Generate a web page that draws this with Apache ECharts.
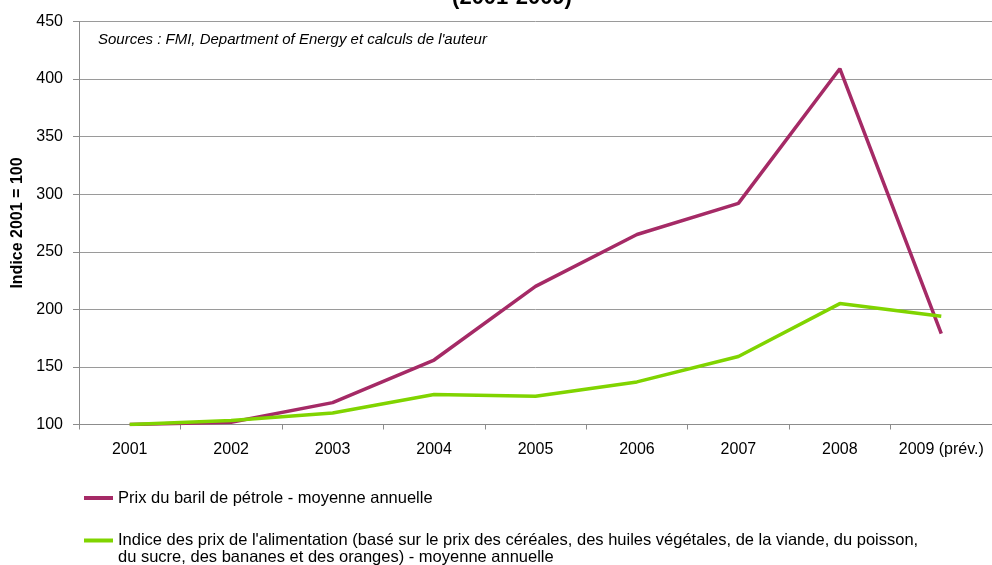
<!DOCTYPE html>
<html>
<head>
<meta charset="utf-8">
<script src="https://cdn.jsdelivr.net/npm/echarts@6/dist/echarts.min.js"></script>
<style>html,body{margin:0;padding:0;background:#fff}#c{width:992px;height:565px}</style>
</head>
<body>
<div id="c"></div>
<script>
const categories = ['2001','2002','2003','2004','2005','2006','2007','2008','2009 (prév.)'];
const oilValues = [100, 102, 119, 156, 220, 265, 292, 409, 179];
const foodValues = [100, 103.5, 110, 126, 124.5, 137, 159, 205, 194];
const oilName = 'Prix du baril de pétrole - moyenne annuelle';
const foodName = "Indice des prix de l'alimentation (basé sur le prix des céréales, des huiles végétales, de la viande, du poisson, du sucre, des bananes et des oranges) - moyenne annuelle";
const foodLegendLines = ["Indice des prix de l'alimentation (basé sur le prix des céréales, des huiles végétales, de la viande, du poisson,", "du sucre, des bananes et des oranges) - moyenne annuelle"];
const titleText = '(2001-2009)';
const sourceText = "Sources : FMI, Department of Energy et calculs de l'auteur";
const yAxisName = 'Indice 2001 = 100';

const FONT = '"Liberation Sans", Arial, sans-serif';
const chart = echarts.init(document.getElementById('c'), null, {renderer: 'canvas'});
chart.setOption({
  animation: false,
  backgroundColor: '#ffffff',
  title: [
    {text: titleText, left: 512, textAlign: 'center', top: -13, padding: 0,
     textStyle: {fontFamily: FONT, fontSize: 22, fontWeight: 'bold', color: '#000'}},
    {text: sourceText, left: 98, top: 32, padding: 0,
     textStyle: {fontFamily: FONT, fontSize: 15, fontStyle: 'italic', fontWeight: 'normal', color: '#000'}}
  ],
  legend: [
    {data: [oilName], orient: 'vertical', left: 84, top: 489.5, padding: 0, itemWidth: 29, itemHeight: 4,
     icon: 'rect', textStyle: {fontFamily: FONT, fontSize: 16.5, color: '#000', lineHeight: 17}, itemGap: 0},
    {data: [foodName], orient: 'vertical', left: 84, top: 515, padding: 0, itemWidth: 29, itemHeight: 4,
     icon: 'rect',
     formatter: function () { return ' \n' + foodLegendLines.join('\n'); },
     textStyle: {fontFamily: FONT, fontSize: 16.5, color: '#000', lineHeight: 17}, itemGap: 0}
  ],
  grid: {left: 79, top: 21.5, width: 921, height: 403, containLabel: false},
  xAxis: {
    type: 'category', data: categories, boundaryGap: true,
    axisLine: {lineStyle: {color: '#8c8c8c', width: 1}},
    axisTick: {show: true, interval: 0, length: 5, lineStyle: {color: '#8c8c8c'}},
    axisLabel: {interval: 0, hideOverlap: false, fontFamily: FONT, fontSize: 16, color: '#000', margin: 17}
  },
  yAxis: {
    type: 'value', min: 100, max: 450, interval: 50,
    name: yAxisName, nameLocation: 'middle', nameGap: 50, nameRotate: 90,
    nameTextStyle: {fontFamily: FONT, fontSize: 16, fontWeight: 'bold', color: '#000'},
    axisLine: {show: true, lineStyle: {color: '#8c8c8c', width: 1}},
    axisTick: {show: true, length: 6, lineStyle: {color: '#8c8c8c'}},
    axisLabel: {fontFamily: FONT, fontSize: 16, color: '#000', margin: 16},
    splitLine: {show: true, lineStyle: {color: '#9a9a9a', width: 1}}
  },
  series: [
    {name: oilName, type: 'line', data: oilValues, symbol: 'none', smooth: false,
     lineStyle: {color: '#A52A66', width: 3.5}, itemStyle: {color: '#A52A66'}},
    {name: foodName, type: 'line', data: foodValues, symbol: 'none', smooth: false,
     lineStyle: {color: '#80D400', width: 3.5}, itemStyle: {color: '#80D400'}}
  ]
});
</script>
</body>
</html>
